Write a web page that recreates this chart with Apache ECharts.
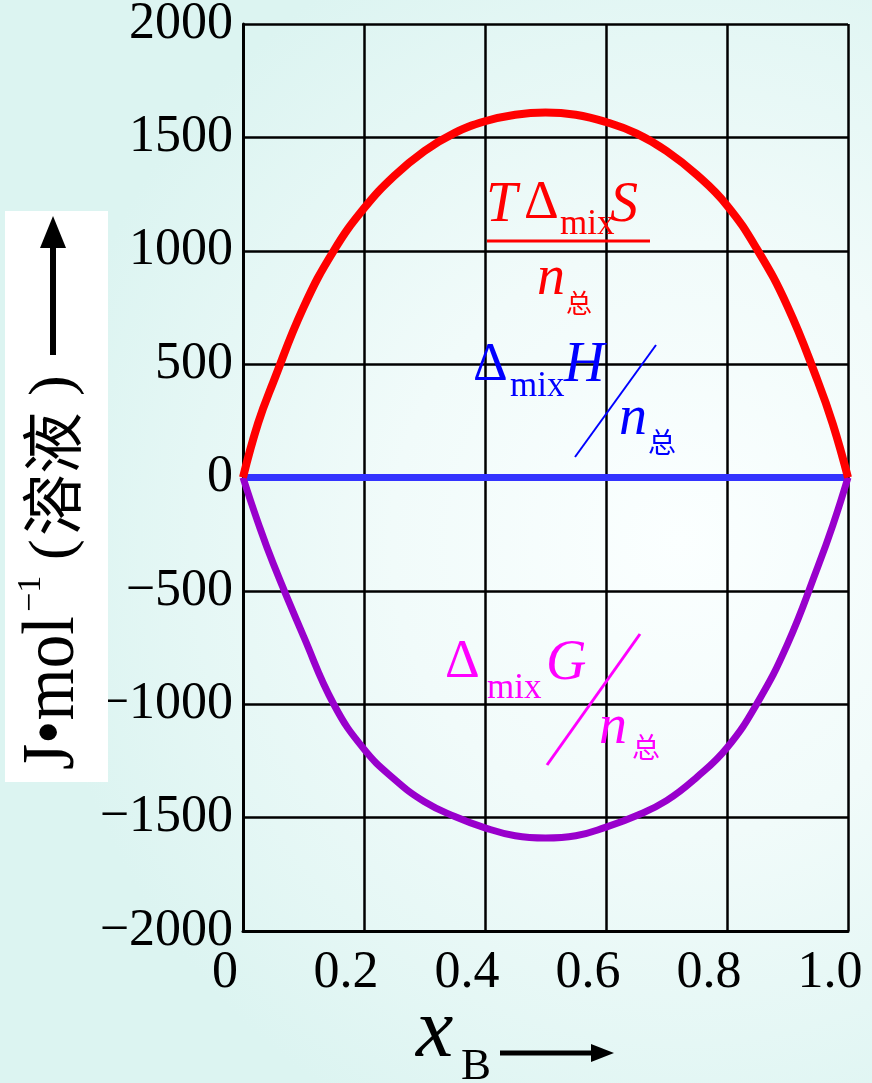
<!DOCTYPE html>
<html>
<head>
<meta charset="utf-8">
<script src="https://cdn.jsdelivr.net/npm/echarts@6/dist/echarts.min.js"></script>
<style>
  html, body { margin: 0; padding: 0; }
  #chart {
    width: 872px; height: 1083px;
    background: radial-gradient(ellipse 640px 660px at 680px 540px, #fbffff 0%, #f1fbfa 45%, #dcf4f1 100%);
  }
</style>
</head>
<body>
<div id="chart"></div>
<script>
// mole fraction of B
const xB = [0, 0.025, 0.05, 0.1, 0.15, 0.2, 0.25, 0.3, 0.35, 0.4, 0.45, 0.5,
            0.55, 0.6, 0.65, 0.7, 0.75, 0.8, 0.85, 0.9, 0.95, 0.975, 1];
// T·ΔmixS / n_total  (J·mol⁻¹)
const tMixS = [0, 240, 420, 750, 1000, 1187, 1330, 1440, 1520, 1571, 1600, 1610,
               1600, 1568, 1518, 1440, 1335, 1200, 1005, 755, 425, 235, 0];
// ΔmixH / n_total  (ideal solution: zero)
const mixH = [0, 0, 0, 0, 0, 0, 0, 0, 0, 0, 0, 0,
              0, 0, 0, 0, 0, 0, 0, 0, 0, 0, 0];
// ΔmixG / n_total
const mixG = [0, -200, -380, -700, -1000, -1198, -1330, -1430, -1495, -1545, -1580, -1590,
              -1580, -1542, -1492, -1425, -1322, -1192, -995, -735, -395, -210, 0];

const xTickLabels = ['0', '0.2', '0.4', '0.6', '0.8', '1.0'];
const yTickLabels = ['\u22122000', '\u22121500', '\u22121000', '\u2212500', '0', '500', '1000', '1500', '2000'];

const pairs = (ys) => xB.map((x, i) => [x, ys[i]]);

const SERIF = '"Liberation Serif", "Times New Roman", serif';
const CJK = '"Noto Sans CJK SC", sans-serif';

// plain text piece: left-aligned at x, vertically centred at y
function piece(x, y, text, font, color) {
  return { type: 'text', x: x, y: y, z: 50,
    style: { text: text, font: font, fill: color, align: 'left', verticalAlign: 'middle' } };
}
// text rotated to read bottom-to-top, starting at (x, y)
function upText(x, y, text, font, sy) {
  return { type: 'text', x: x, y: y, rotation: Math.PI / 2, scaleY: sy || 1, z: 50,
    style: { text: text, font: font, fill: '#000', align: 'left', verticalAlign: 'middle' } };
}
function seg(x1, y1, x2, y2, color, w) {
  return { type: 'line', z: 50, shape: { x1: x1, y1: y1, x2: x2, y2: y2 },
    style: { stroke: color, lineWidth: w } };
}

const RED = '#ff0000', BLUE = '#0000ff', MAG = '#ff00ff';

const graphics = [
  // y-axis title panel
  { type: 'rect', z: 40, shape: { x: 5, y: 211, width: 103, height: 571 }, style: { fill: '#ffffff' } },
  upText(54, 770, 'J\u2022mol', '67px ' + SERIF, 1.1),
  upText(31, 612, '\u22121', '34px ' + SERIF),
  upText(55, 560, '(', '62px ' + SERIF),
  upText(52, 536, '溶液', '62px ' + CJK),
  upText(55, 396, ')', '62px ' + SERIF),
  seg(53, 355, 53, 244, '#000', 6),
  { type: 'polygon', z: 50, shape: { points: [[40, 248], [66, 248], [53, 216]] }, style: { fill: '#000' } },

  // x-axis title
  piece(416, 1034, 'x', 'italic 84px ' + SERIF, '#000'),
  piece(461, 1067, 'B', '45px ' + SERIF, '#000'),
  seg(500, 1053, 596, 1053, '#000', 5),
  { type: 'polygon', z: 50, shape: { points: [[591, 1044], [591, 1062], [614, 1053]] }, style: { fill: '#000' } },

  // T·ΔmixS / n总
  piece(486, 206, 'T', 'italic 56px ' + SERIF, RED),
  piece(524, 204, '\u0394', '54px ' + SERIF, RED),
  piece(560, 225, 'mix', '35px ' + SERIF, RED),
  piece(610, 206, 'S', 'italic 56px ' + SERIF, RED),
  seg(487, 241, 650, 241, RED, 3),
  piece(537, 279, 'n', 'italic 56px ' + SERIF, RED),
  piece(566, 303, '总', '26px ' + CJK, RED),

  // ΔmixH / n总
  piece(473, 366, '\u0394', '54px ' + SERIF, BLUE),
  piece(510, 387, 'mix', '35px ' + SERIF, BLUE),
  piece(564, 366, 'H', 'italic 56px ' + SERIF, BLUE),
  seg(575, 457, 656, 345, BLUE, 2),
  piece(619, 419, 'n', 'italic 56px ' + SERIF, BLUE),
  piece(648, 442, '总', '28px ' + CJK, BLUE),

  // ΔmixG / n总
  piece(445, 663, '\u0394', '54px ' + SERIF, MAG),
  piece(487, 689, 'mix', '35px ' + SERIF, MAG),
  piece(546, 664, 'G', 'italic 56px ' + SERIF, MAG),
  seg(547, 765, 640, 634, MAG, 3),
  piece(599, 728, 'n', 'italic 56px ' + SERIF, MAG),
  piece(632, 747, '总', '28px ' + CJK, MAG)
];

const chart = echarts.init(document.getElementById('chart'), null, { renderer: 'canvas' });
chart.setOption({
  animation: false,
  backgroundColor: 'transparent',
  grid: { left: 243, right: 24, top: 24, bottom: 152, containLabel: false, outerBoundsMode: 'none' },
  xAxis: {
    type: 'value', min: 0, max: 1, interval: 0.2,
    axisLine: { show: true, onZero: false, lineStyle: { color: '#000', width: 3 } },
    axisTick: { show: false },
    splitLine: { show: true, lineStyle: { color: '#000', width: 2.5 } },
    axisLabel: {
      show: true, showMinLabel: true, showMaxLabel: true, hideOverlap: false,
      margin: 16, color: '#000', fontSize: 52, fontFamily: SERIF,
      padding: [0, 36, 0, 0],
      formatter: (v) => xTickLabels[Math.round(v / 0.2)]
    }
  },
  yAxis: {
    type: 'value', min: -2000, max: 2000, interval: 500,
    axisLine: { show: true, onZero: false, lineStyle: { color: '#000', width: 3 } },
    axisTick: { show: false },
    splitLine: { show: true, lineStyle: { color: '#000', width: 2.5 } },
    axisLabel: {
      show: true, showMinLabel: true, showMaxLabel: true, hideOverlap: false,
      margin: 10, color: '#000', fontSize: 52, fontFamily: SERIF,
      formatter: (v) => yTickLabels[Math.round((v + 2000) / 500)]
    }
  },
  series: [
    { name: 'ΔmixH/n', type: 'line', data: pairs(mixH), showSymbol: false, z: 3,
      lineStyle: { color: '#3333ff', width: 7 } },
    { name: 'ΔmixG/n', type: 'line', data: pairs(mixG), showSymbol: false, smooth: 0.45, z: 4,
      lineStyle: { color: '#9900cc', width: 7 } },
    { name: 'TΔmixS/n', type: 'line', data: pairs(tMixS), showSymbol: false, smooth: 0.45, z: 5,
      lineStyle: { color: '#ff0000', width: 8 } }
  ],
  graphic: graphics
});
</script>
</body>
</html>
